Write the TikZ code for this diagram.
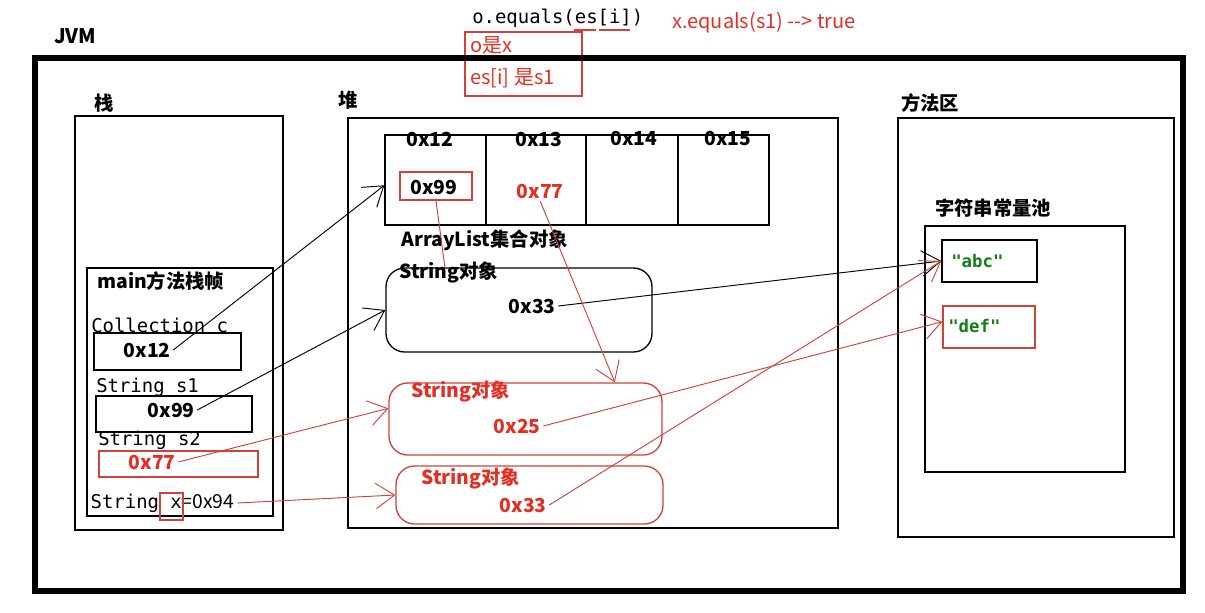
\documentclass[tikz,border=0pt]{standalone}
\usepackage{fontspec}
\setmainfont{Noto Sans CJK SC}
\setmonofont{DejaVu Sans Mono}
\usetikzlibrary{arrows.meta,fit}
\definecolor{jred}{RGB}{228,46,36}
\definecolor{lred}{RGB}{208,66,56}
\definecolor{jgreen}{RGB}{20,125,20}
\begin{document}
\begin{tikzpicture}[x=0.75pt,y=-0.75pt,
  lbl/.style={inner sep=0pt, anchor=west, font=\fontsize{14.5}{16}\selectfont\bfseries},
  redlbl/.style={lbl, text=jred},
  val/.style={lbl, outer sep=2pt},
  redval/.style={val, text=jred},
  mono/.style={inner sep=0pt, anchor=west, font=\fontsize{14.2}{16}\selectfont\ttfamily},
  note/.style={inner sep=0pt, anchor=west, text=jred, font=\fontsize{15}{17}\selectfont},
  strlit/.style={inner sep=0pt, anchor=west, text=jgreen, font=\fontsize{13}{15}\selectfont\ttfamily\bfseries},
  box/.style={draw, line width=1pt, inner sep=0pt},
  redbox/.style={draw=lred, line width=1pt, inner sep=0pt},
  arr/.style={-{Straight Barb[length=14pt,width=19pt]}, line width=0.7pt},
  rarr/.style={arr, draw=lred},
]
\useasboundingbox (0,0) rectangle (1205,612);

% title and notes
\node[lbl, font=\fontsize{15}{17}\selectfont\bfseries] (jvm) at (54,36) {JVM};
\node[mono] (oeq) at (472,18) {o.equals(es[i])};
\draw[lred, line width=0.8pt] (574,30) -- (596,30) (599,30) -- (630,30);
\node[redbox, fit={(465,32) (582,96)}] (notebox) {};
\node[note] (ox) at (470,45) {o是x};
\node[note] (ess1) at (470,78) {es[i] 是s1};
\node[note] (xeq) at (672,23) {x.equals(s1) {-}{-}> true};

% JVM outer frame
\node[draw, line width=3.8pt, inner sep=0pt, fit={(35,58) (1183,591)}] (jvmbox) {};

% stack
\node[lbl] (stacklbl) at (94,103) {栈};
\node[box, fit={(75,116) (283,530)}] (stack) {};
\node[box, fit={(87,268) (273,516)}] (frame) {};
\node[lbl] (framelbl) at (97,281) {main方法栈帧};
\node[mono] (colc) at (91,325) {Collection c};
\node[box, fit={(94,333) (241,370)}] (cbox) {};
\node[val] (v12) at (121,350) {0x12};
\node[mono] (strs1) at (96,387) {String s1};
\node[box, fit={(96,396) (252,432)}] (s1box) {};
\node[val] (v99) at (145,410) {0x99};
\node[mono] (strs2) at (98,440) {String s2};
\node[redbox, fit={(99,451) (258,477)}] (s2box) {};
\node[redval] (v77) at (126,462) {0x77};
\node[inner sep=0pt, anchor=west, outer sep=2pt] (strx) at (88,503) {{\fontsize{14.2}{16}\selectfont\ttfamily String x}{\fontsize{14.5}{16}\selectfont =0x94}};
\node[redbox, fit={(160,493) (183,520)}] (xbox) {};

% heap
\node[lbl] (heaplbl) at (338,100) {堆};
\node[box, fit={(348,118) (838,528)}] (heap) {};
\node[box, fit={(385,135) (769,225)}] (arr) {};
\draw[line width=1pt] (486,135) -- (486,225) (586,135) -- (586,225) (678,135) -- (678,225);
\node[lbl] (a12) at (406,139) {0x12};
\node[lbl] (a13) at (515,139) {0x13};
\node[lbl] (a14) at (610,138) {0x14};
\node[lbl] (a15) at (704,138) {0x15};
\node[redbox, fit={(400,172) (472,200)}] (a99box) {};
\node[lbl] (a99) at (410,187) {0x99};
\node[redval] (a77) at (514,191) {0x77};
\node[lbl] (arrlbl) at (401,240) {ArrayList集合对象};
\node[box, rounded corners=14pt, fit={(386,268) (652,352)}] (sobj) {};
\node[lbl] (sobjlbl) at (399,272) {String对象};
\node[val] (s33) at (506,306) {0x33};
\node[redbox, rounded corners=14pt, fit={(389,383) (662,455)}] (rs1) {};
\node[redlbl] (rs1lbl) at (411,391) {String对象};
\node[redval] (v25) at (491,426) {0x25};
\node[redbox, rounded corners=14pt, fit={(396,466) (663,524)}] (rs2) {};
\node[redlbl] (rs2lbl) at (421,478) {String对象};
\node[redval] (r33) at (497,505) {0x33};

% method area
\node[lbl] (malbl) at (901,103) {方法区};
\node[box, fit={(898,118) (1174,537)}] (ma) {};
\node[lbl] (poollbl) at (935,208) {字符串常量池};
\node[box, fit={(925,226) (1125,472)}] (pool) {};
\node[box, fit={(942,240) (1037,282)}] (abc) {};
\node[strlit] (abclbl) at (951,261) {"abc"};
\node[redbox, fit={(943,306) (1035,348)}] (def) {};
\node[strlit] (deflbl) at (948,326) {"def"};

% connectors
\coordinate (c6) at (445,268);
\draw[arr] (v12.east) -- ([yshift=-4pt]arr.west);
\draw[arr] (v99.east) -- (sobj.west);
\draw[arr] (s33.east) -- (abc.west);
\draw[rarr] (v77.east) -- ([yshift=8pt]rs1.west);
\draw[rarr] (strx.east) -- (rs2.west);
\draw[draw=lred, line width=0.7pt] (a99box.south) -- (c6);
\draw[rarr] (a77.south) -- ([xshift=67pt]rs1.north);
\draw[rarr] (v25.east) -- ([yshift=4pt]def.west);
\draw[rarr] (r33.east) -- (abc.west);
\end{tikzpicture}
\end{document}
